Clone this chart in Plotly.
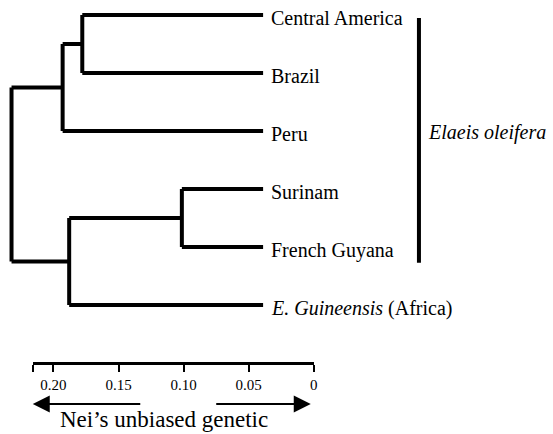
import plotly.graph_objects as go

# ---- data ----
leaf_names = ["Central America", "Brazil", "Peru", "Surinam", "French Guyana",
              "<i>E. Guineensis</i> (Africa)"]
# merges: (child_a, child_b, height); leaves are 0..5, new nodes 6..10
merge_a = [0, 6, 3, 8, 7]
merge_b = [1, 2, 4, 5, 9]
merge_height = [0.138, 0.153, 0.062, 0.148, 0.192]
group_label = "Elaeis oleifera"
scale_ticks = [0.20, 0.15, 0.10, 0.05, 0.0]
scale_ticktext = ["0.20", "0.15", "0.10", "0.05", "0"]
scale_title = "Nei\u2019s unbiased genetic"

# ---- build dendrogram segments ----
n = len(leaf_names)
node_x = {i: 0.0 for i in range(n)}
node_y = {i: float(i) for i in range(n)}
xs, ys = [], []
for k, (a, b, h) in enumerate(zip(merge_a, merge_b, merge_height)):
    idx = n + k
    for c in (a, b):
        xs += [node_x[c], h, None]
        ys += [node_y[c], node_y[c], None]
    xs += [h, h, None]
    ys += [node_y[a], node_y[b], None]
    node_x[idx] = h
    node_y[idx] = (node_y[a] + node_y[b]) / 2

W, H = 553, 434
fig = go.Figure()
fig.add_trace(go.Scatter(x=xs, y=ys, mode="lines",
                         line=dict(color="black", width=4),
                         hoverinfo="skip", showlegend=False))
# invisible trace to activate the scale axis
fig.add_trace(go.Scatter(x=scale_ticks, y=[0] * len(scale_ticks), xaxis="x2", yaxis="y",
                         mode="markers", marker=dict(opacity=0),
                         hoverinfo="skip", showlegend=False))

serif = "'Liberation Serif', 'Times New Roman', 'DejaVu Serif', serif"
ann = []
for i, name in enumerate(leaf_names):
    ann.append(dict(x=0, y=i, xref="x", yref="y", text=name, showarrow=False,
                    xanchor="left", yanchor="middle", xshift=6, yshift=-3,
                    font=dict(family=serif, size=20, color="black")))
ann.append(dict(x=429 / W, y=2, xref="paper", yref="y",
                text="<i>" + group_label + "</i>", showarrow=False,
                xanchor="left", yanchor="middle", yshift=-1,
                font=dict(family=serif, size=20, color="black")))
# arrows
ann.append(dict(x=33 / W, y=1 - 404 / H, xref="paper", yref="paper", text="",
                showarrow=True, ax=109, ay=0, arrowhead=2, arrowsize=1.7,
                arrowwidth=2, arrowcolor="black", standoff=0))
ann.append(dict(x=313 / W, y=1 - 404 / H, xref="paper", yref="paper", text="",
                showarrow=True, ax=-96, ay=0, arrowhead=2, arrowsize=1.7,
                arrowwidth=2, arrowcolor="black", standoff=0))
ann.append(dict(x=165 / W, y=0, xref="paper", yref="paper",
                text=scale_title, showarrow=False, xanchor="center", yanchor="bottom",
                font=dict(family=serif, size=23, color="black")))

shapes = [dict(type="line", xref="paper", yref="y", x0=422 / W, x1=422 / W,
               y0=0.05, y1=4.27, line=dict(color="black", width=4))]

fig.update_layout(
    width=W, height=H, margin=dict(l=0, r=0, t=0, b=0),
    paper_bgcolor="white", plot_bgcolor="rgba(0,0,0,0)",
    xaxis=dict(range=[0.2008, -0.2182], visible=False, domain=[0, 1]),
    yaxis=dict(range=[7.224, -0.2586], visible=False, domain=[0, 1]),
    xaxis2=dict(range=[0.2159, 0.0], domain=[33 / W, 316 / W], anchor="free",
                position=1 - 363 / H, side="bottom", showline=True, linewidth=3,
                linecolor="black", ticks="outside", ticklen=7, tickwidth=2,
                tickcolor="black", tickvals=[0.2159] + scale_ticks,
                ticktext=[""] + scale_ticktext, showgrid=False, zeroline=False,
                tickfont=dict(family=serif, size=15, color="black")),
    annotations=ann, shapes=shapes, showlegend=False,
)
fig.write_html("out.html", config={"displayModeBar": False},
               post_script="document.body.style.margin='0';document.body.style.padding='0';")
